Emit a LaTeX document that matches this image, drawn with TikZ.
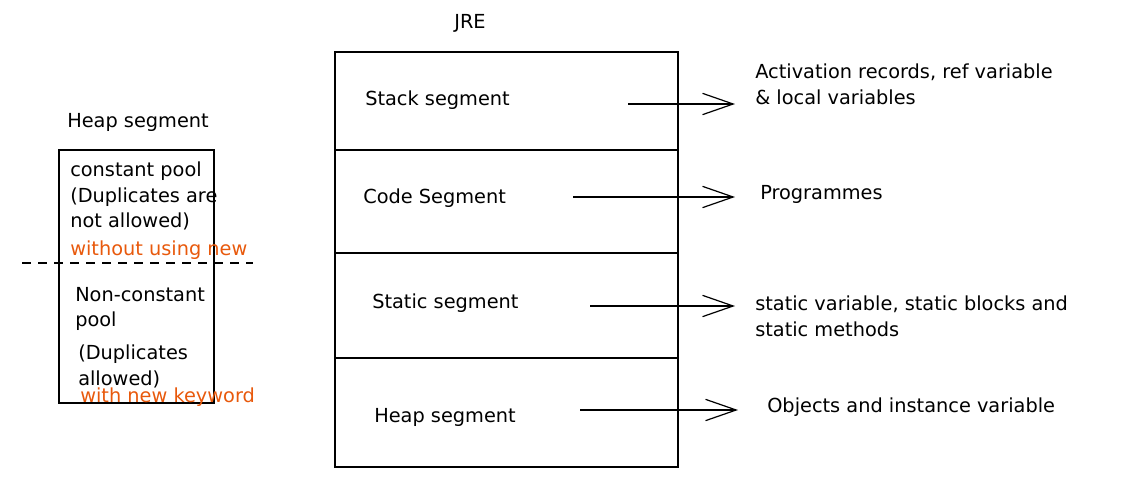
\documentclass[tikz,border=0pt]{standalone}
\usepackage{fontspec}
\setmainfont{DejaVu Sans}
\usetikzlibrary{arrows.meta}
\definecolor{noteorange}{HTML}{E8590C}

\def \boxLine {1.1pt}

\begin{document}
\begin{tikzpicture}[x=0.75pt, y=-0.75pt,
    every node/.style={font=\fontsize{14.5}{18.8}\selectfont, inner sep=0pt},
    seg/.style={anchor=west},
    desc/.style={anchor=north west, align=left},
    note/.style={anchor=west, text=noteorange},
    pointer/.style={-{Straight Barb[length=23pt,width=16pt]}, line width=0.9pt}]
  \useasboundingbox (0,0) rectangle (1125,479);

  % JRE and its segments
  \node (jre) at (470,23) {JRE};
  \draw[line width=\boxLine] (335,52) rectangle (678,467);
  \draw[line width=\boxLine] (335,150) -- (678,150);
  \draw[line width=\boxLine] (335,253) -- (678,253);
  \draw[line width=\boxLine] (335,358) -- (678,358);
  \node[seg] (stack) at (365,100) {Stack segment};
  \node[seg] (code) at (363,198) {Code Segment};
  \node[seg] (static) at (372,303) {Static segment};
  \node[seg] (heap) at (374,417) {Heap segment};

  % what each segment keeps
  \node[desc] (stackdesc) at (755,64) {Activation records, ref variable\\\& local variables};
  \node[seg] (codedesc) at (760,194) {Programmes};
  \node[desc] (staticdesc) at (755,296) {static variable, static blocks and\\static methods};
  \node[seg] (heapdesc) at (767,407) {Objects and instance variable};

  \coordinate (stackfrom) at (628,104);
  \coordinate (stackto) at (735,104);
  \coordinate (codefrom) at (573,197);
  \coordinate (codeto) at (735,197);
  \coordinate (staticfrom) at (590,306);
  \coordinate (staticto) at (735,306);
  \coordinate (heapfrom) at (580,410);
  \coordinate (heapto) at (738,410);
  \draw[pointer] (stackfrom) -- (stackto);
  \draw[pointer] (codefrom) -- (codeto);
  \draw[pointer] (staticfrom) -- (staticto);
  \draw[pointer] (heapfrom) -- (heapto);

  % heap segment in detail
  \node (heaptitle) at (138,122) {Heap segment};
  \draw[line width=\boxLine] (59,150) rectangle (214,403);
  \node[desc] (constpool) at (70,162) {constant pool\\(Duplicates are\\not allowed)};
  \node[note] (nonew) at (70,250) {without using new};
  \coordinate (splitleft) at (22,263);
  \coordinate (splitright) at (253,263);
  \draw[dashed, dash pattern=on 7pt off 5pt, line width=0.8pt] (splitleft) -- (splitright);
  \node[desc] (nonconst) at (75,287) {Non-constant\\pool};
  \node[desc] (dupes) at (78,345) {(Duplicates\\allowed)};
  \node[note] (withnew) at (80,397) {with new keyword};
\end{tikzpicture}
\end{document}
